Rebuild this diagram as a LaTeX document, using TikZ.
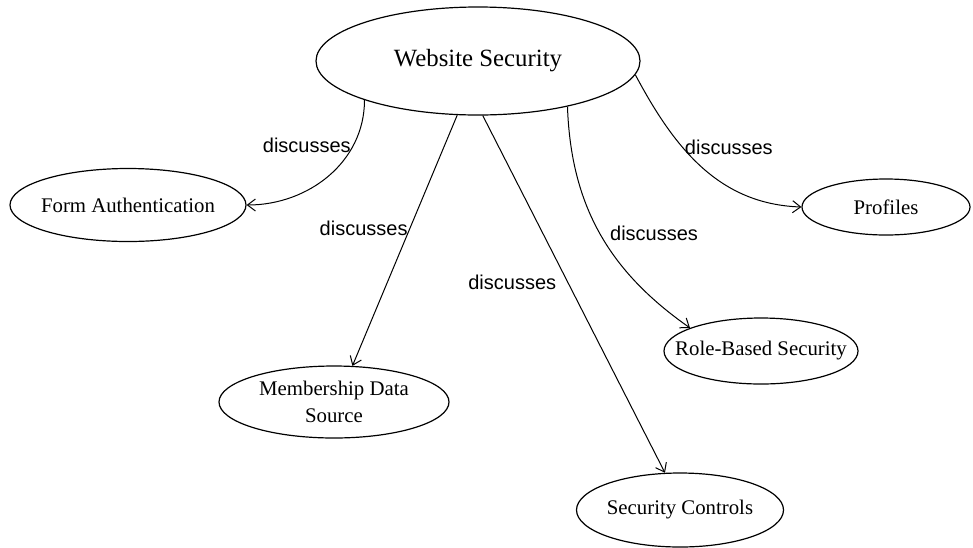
\documentclass[tikz,border=0pt]{standalone}
\usepackage{fontspec}
\setmainfont{Liberation Serif}
\newfontfamily\lblfont{Liberation Sans}
\usetikzlibrary{
  shapes.geometric
  , arrows.meta
}

\begin{document}
\begin{tikzpicture}[x=0.5pt, y=0.5pt,
    topic/.style={ellipse, draw=black, line width=0.6pt,
      inner xsep=-12pt, inner ysep=-6pt,
      align=center, font=\fontsize{10.4}{13.5}\selectfont},
    rel/.style={-{Straight Barb[length=4pt, width=6pt]}, line width=0.5pt},
    lbl/.style={font=\lblfont\fontsize{10}{12}\selectfont, inner sep=1pt}]
      \useasboundingbox (0,0) rectangle (973,-547);

      \node [topic,
        minimum width=162pt, minimum height=54pt,
        font=\fontsize{12.4}{15}\selectfont] (web) at (478,-61) {Website Security};
      \node [topic,
        minimum width=118pt, minimum height=36.5pt] (form) at (128,-205) {Form Authentication};
      \node [topic,
        minimum width=84pt, minimum height=28pt] (prof) at (886,-207) {Profiles};
      \node [topic,
        minimum width=97pt, minimum height=33pt] (role) at (761,-351) {Role-Based Security};
      \node [topic,
        minimum width=115pt, minimum height=36pt] (member) at (334,-402) {Membership Data\\Source};
      \node [topic,
        minimum width=103.5pt, minimum height=37pt] (ctrl) at (680,-510) {Security Controls};

      % curved ones
      \draw [rel] (web.199) to [out=-90, in=0]
        node [lbl, pos=0.27, anchor=east] {discusses} (form.east);
      \draw [rel] (web.333) to [out=-88, in=145]
        node [lbl, pos=0.5, right=4pt] {discusses} (role.162);
      \draw [rel] (web.355) to [out=-62, in=178]
        node [lbl, pos=0.37, anchor=west] {discusses} (prof.west);

      % straight ones
      \draw [rel] (web.249) --
        node [lbl, pos=0.45, anchor=east] {discusses} (member.63);
      \draw [rel] (web.275) --
        node [lbl, pos=0.466, left=4.5pt] {discusses} (ctrl.112);
    \end{tikzpicture}
\end{document}
